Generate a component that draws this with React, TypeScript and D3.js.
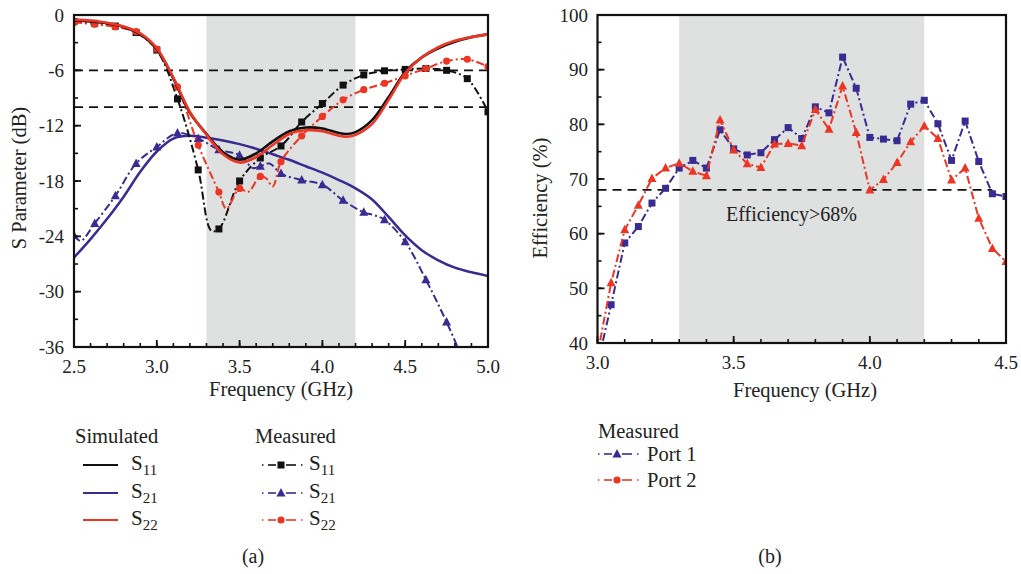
import React from "react";
import * as d3 from "d3";

// ---------- Data (a) ----------
const simFreq = [2.5, 2.6, 2.7, 2.8, 2.9, 3.0, 3.1, 3.2, 3.3, 3.4, 3.5, 3.6, 3.7, 3.8, 3.9, 4.0, 4.1, 4.15, 4.2, 4.3, 4.4, 4.5, 4.6, 4.7, 4.8, 4.9, 5.0];
const simS11 = [-0.6, -0.7, -0.9, -1.3, -2.1, -3.7, -6.9, -10.6, -12.9, -14.9, -15.7, -15.0, -13.7, -12.6, -12.2, -12.3, -12.8, -12.9, -12.7, -11.4, -8.9, -6.2, -4.6, -3.6, -2.9, -2.4, -2.1];
const simS22 = [-0.5, -0.6, -0.85, -1.25, -2.0, -3.6, -6.8, -10.5, -13.0, -15.1, -16.0, -15.4, -14.1, -12.9, -12.5, -12.6, -13.1, -13.2, -13.0, -11.8, -9.2, -6.3, -4.6, -3.5, -2.8, -2.4, -2.1];
const simS21Freq = [2.5, 2.6, 2.7, 2.8, 2.9, 3.0, 3.1, 3.2, 3.3, 3.4, 3.5, 3.6, 3.7, 3.8, 3.9, 4.0, 4.1, 4.2, 4.3, 4.4, 4.5, 4.6, 4.7, 4.8, 4.9, 5.0];
const simS21 = [-26.3, -24.3, -22.1, -19.7, -17.0, -14.8, -13.4, -13.1, -13.3, -13.6, -14.0, -14.5, -15.1, -15.7, -16.4, -17.1, -17.9, -18.8, -20.0, -21.9, -23.9, -25.5, -26.6, -27.4, -27.9, -28.3];

const measS11Freq = [2.5, 2.625, 2.75, 2.875, 3.0, 3.125, 3.25, 3.33, 3.375, 3.5, 3.625, 3.75, 3.875, 4.0, 4.125, 4.25, 4.375, 4.5, 4.625, 4.75, 4.875, 5.0];
const measS11 = [-0.7, -0.9, -1.2, -1.9, -3.8, -9.1, -16.8, -23.4, -23.2, -18.0, -15.5, -14.2, -11.6, -9.6, -7.6, -6.5, -6.05, -5.9, -5.8, -6.0, -6.9, -10.5];

const measS21Freq = [2.5, 2.54, 2.625, 2.75, 2.875, 3.0, 3.125, 3.25, 3.375, 3.5, 3.58, 3.625, 3.68, 3.75, 3.875, 4.0, 4.125, 4.25, 4.31, 4.375, 4.5, 4.625, 4.75, 4.875];
const measS21 = [-23.9, -24.5, -22.6, -19.6, -16.1, -14.3, -12.8, -13.4, -14.6, -15.2, -16.6, -16.4, -16.1, -17.2, -17.9, -18.4, -20.1, -21.4, -21.7, -22.2, -24.6, -28.7, -33.3, -38.5];

const measS22Freq = [2.5, 2.625, 2.75, 2.875, 3.0, 3.125, 3.25, 3.375, 3.42, 3.5, 3.55, 3.625, 3.66, 3.7, 3.75, 3.875, 4.0, 4.125, 4.25, 4.375, 4.5, 4.625, 4.75, 4.875, 5.0];
const measS22 = [-0.8, -1.0, -1.3, -1.8, -3.7, -7.8, -14.1, -19.2, -21.0, -18.8, -19.2, -17.5, -17.7, -18.6, -15.9, -13.1, -11.0, -9.2, -8.1, -7.4, -6.6, -5.8, -5.0, -4.8, -5.6];

const aXTicks = [2.5, 3.0, 3.5, 4.0, 4.5, 5.0];
const aYTicks = [0, -6, -12, -18, -24, -30, -36];
const aRefLines = [-6, -10];
const aBand = [3.3, 4.2];

// ---------- Data (b) ----------
const effFreq1 = [3.02, 3.05, 3.1, 3.15, 3.2, 3.25, 3.3, 3.35, 3.4, 3.45, 3.5, 3.55, 3.6, 3.65, 3.7, 3.75, 3.8, 3.85, 3.9, 3.95, 4.0, 4.05, 4.1, 4.15, 4.2, 4.25, 4.3, 4.35, 4.4, 4.45, 4.5];
const effPort1 = [40.4, 47.0, 58.3, 61.3, 65.6, 68.3, 72.0, 73.4, 72.0, 79.0, 75.5, 74.4, 74.8, 77.2, 79.4, 77.4, 83.2, 82.1, 92.3, 86.6, 77.6, 77.3, 77.0, 83.7, 84.4, 80.1, 73.4, 80.6, 73.2, 67.3, 66.8];
const effFreq2 = [3.01, 3.05, 3.1, 3.15, 3.2, 3.25, 3.3, 3.35, 3.4, 3.45, 3.5, 3.55, 3.6, 3.65, 3.7, 3.75, 3.8, 3.85, 3.9, 3.95, 4.0, 4.05, 4.1, 4.15, 4.2, 4.25, 4.3, 4.35, 4.4, 4.45, 4.5];
const effPort2 = [40.5, 51.0, 60.7, 65.2, 70.1, 72.0, 72.9, 71.4, 70.6, 80.8, 75.3, 72.8, 72.1, 76.4, 76.5, 76.1, 82.7, 79.1, 87.0, 78.5, 68.0, 69.9, 73.0, 76.8, 79.7, 77.4, 69.8, 72.0, 62.8, 57.3, 54.9];

const bXTicks = [3.0, 3.5, 4.0, 4.5];
const bYTicks = [40, 50, 60, 70, 80, 90, 100];
const bRefLine = 68;
const bBand = [3.3, 4.2];

// ---------- Styles ----------
const BLUE = "#3a2b92";
const RED = "#ee3524";
const BLACK = "#111111";
const FONT = "Liberation Serif, Times New Roman, Tinos, serif";
const DASHDOT = "8,3,2,3";

const xa = d3.scaleLinear().domain([2.5, 5.0]).range([74, 488]);
const ya = d3.scaleLinear().domain([-36, 0]).range([347, 15]);
const xb = d3.scaleLinear().domain([3.0, 4.5]).range([597.5, 1006]);
const yb = d3.scaleLinear().domain([40, 100]).range([343, 15]);

function zip(f: number[], v: number[]): [number, number][] {
  return f.map((x, i) => [x, v[i]]);
}

function isMarkerA(f: number) {
  return Math.abs(f * 8 - Math.round(f * 8)) < 1e-6;
}
function isMarkerB(f: number) {
  return Math.abs(f * 20 - Math.round(f * 20)) < 1e-6;
}

function Marker({ type, x, y, color }: { type: string; x: number; y: number; color: string }) {
  if (type === "square") return <rect x={x - 3.5} y={y - 3.5} width={7} height={7} fill={color} />;
  if (type === "triangle")
    return <path d={`M${x},${y - 5} L${x + 4.5},${y + 3.5} L${x - 4.5},${y + 3.5} Z`} fill={color} />;
  return <circle cx={x} cy={y} r={3.6} fill={color} />;
}

function Series({ data, x, y, color, dash, width, curve, marker, markerTest }: any) {
  const line = d3
    .line<[number, number]>()
    .x((d) => x(d[0]))
    .y((d) => y(d[1]))
    .curve(curve);
  return (
    <g>
      <path d={line(data) || ""} fill="none" stroke={color} strokeWidth={width} strokeDasharray={dash} />
      {marker &&
        data
          .filter((d: [number, number]) => markerTest(d[0]))
          .map((d: [number, number], i: number) => (
            <Marker key={i} type={marker} x={x(d[0])} y={y(d[1])} color={color} />
          ))}
    </g>
  );
}

function Axes({ x, y, xTicks, yTicks, xMinor, yMinor, xFmt, yFmt, xLabelY, yLabelX }: any) {
  const [x0, x1] = x.range();
  const [y0, y1] = y.range();
  const xm = d3.range(x.domain()[0], x.domain()[1] + 1e-9, xMinor);
  const ym = d3.range(y.domain()[0], y.domain()[1] + 1e-9, yMinor);
  return (
    <g>
      {xm.map((t: number, i: number) => (
        <line key={"xm" + i} x1={x(t)} x2={x(t)} y1={y0} y2={y0 - 4} stroke={BLACK} strokeWidth={1.6} />
      ))}
      {xTicks.map((t: number, i: number) => (
        <g key={"xt" + i}>
          <line x1={x(t)} x2={x(t)} y1={y0} y2={y0 - 7} stroke={BLACK} strokeWidth={1.8} />
          <text x={x(t)} y={xLabelY} textAnchor="middle" fontSize={19} style={{ fontFamily: FONT }} fill="#222">
            {xFmt(t)}
          </text>
        </g>
      ))}
      {ym.map((t: number, i: number) => (
        <line key={"ym" + i} x1={x0} x2={x0 + 4} y1={y(t)} y2={y(t)} stroke={BLACK} strokeWidth={1.6} />
      ))}
      {yTicks.map((t: number, i: number) => (
        <g key={"yt" + i}>
          <line x1={x0} x2={x0 + 7} y1={y(t)} y2={y(t)} stroke={BLACK} strokeWidth={1.8} />
          <text x={yLabelX} y={y(t) + 6.5} textAnchor="end" fontSize={19} style={{ fontFamily: FONT }} fill="#222">
            {yFmt(t)}
          </text>
        </g>
      ))}
      <rect x={x0} y={y1} width={x1 - x0} height={y0 - y1} fill="none" stroke={BLACK} strokeWidth={2.2} />
    </g>
  );
}

function LegendMeasured({ x, y, color, marker }: any) {
  return (
    <g stroke={color} strokeWidth={1.6}>
      <line x1={x} x2={x + 1.5} y1={y} y2={y} />
      <line x1={x + 6} x2={x + 14} y1={y} y2={y} />
      <line x1={x + 24} x2={x + 34} y1={y} y2={y} />
      <line x1={x + 39} x2={x + 40.5} y1={y} y2={y} />
      <g stroke="none">
        <Marker type={marker} x={x + 19} y={y} color={color} />
      </g>
    </g>
  );
}

function Sub({ x, y, sub }: { x: number; y: number; sub: string }) {
  return (
    <text x={x} y={y} fontSize={21} style={{ fontFamily: FONT }} fill="#222">
      S
      <tspan fontSize={15} dy={5}>
        {sub}
      </tspan>
    </text>
  );
}

function T({ x, y, children, anchor, size, transform }: any) {
  return (
    <text x={x} y={y} transform={transform} textAnchor={anchor || "start"} fontSize={size || 20.5} style={{ fontFamily: FONT }} fill="#222">
      {children}
    </text>
  );
}

export default function App() {
  const curve = d3.curveCatmullRom.alpha(0.5);
  const lin = d3.curveLinear;
  return (
    <svg width={1021} height={574} style={{ position: "absolute", left: 0, top: 0, background: "#fff", fontFamily: FONT }}>
      <defs>
        <clipPath id="clipA">
          <rect x={74} y={15} width={414} height={332} />
        </clipPath>
        <clipPath id="clipB">
          <rect x={597.5} y={15} width={408.5} height={328} />
        </clipPath>
      </defs>

      {/* ---------- Panel (a) ---------- */}
      <rect x={xa(aBand[0])} y={15} width={xa(aBand[1]) - xa(aBand[0])} height={332} fill="#dfe0e0" />
      {aRefLines.map((v, i) => (
        <line key={i} x1={74} x2={488} y1={ya(v)} y2={ya(v)} stroke={BLACK} strokeWidth={1.8} strokeDasharray="9,6" />
      ))}
      <g clipPath="url(#clipA)">
        <Series data={zip(simS21Freq, simS21)} x={xa} y={ya} color={BLUE} width={2.5} curve={curve} />
        <Series data={zip(measS21Freq, measS21)} x={xa} y={ya} color={BLUE} width={2} dash={DASHDOT} curve={curve} marker="triangle" markerTest={isMarkerA} />
        <Series data={zip(measS11Freq, measS11)} x={xa} y={ya} color={BLACK} width={2} dash={DASHDOT} curve={curve} marker="square" markerTest={isMarkerA} />
        <Series data={zip(measS22Freq, measS22)} x={xa} y={ya} color={RED} width={2} dash={DASHDOT} curve={curve} marker="circle" markerTest={isMarkerA} />
        <Series data={zip(simFreq, simS11)} x={xa} y={ya} color={BLACK} width={2.6} curve={curve} />
        <Series data={zip(simFreq, simS22)} x={xa} y={ya} color={RED} width={2.6} curve={curve} />
      </g>
      <Axes x={xa} y={ya} xTicks={aXTicks} yTicks={aYTicks} xMinor={0.1} yMinor={3}
        xFmt={(t: number) => t.toFixed(1)} yFmt={(t: number) => String(t)} xLabelY={373} yLabelX={64} />
      <T x={281} y={396} anchor="middle">Frequency (GHz)</T>
      <T x={0} y={0} anchor="middle" transform="translate(26,178) rotate(-90)">S Parameter (dB)</T>

      {/* Legend (a) */}
      <T x={75} y={443}>Simulated</T>
      <line x1={83} x2={118} y1={465} y2={465} stroke={BLACK} strokeWidth={1.8} />
      <line x1={83} x2={118} y1={493} y2={493} stroke={BLUE} strokeWidth={1.8} />
      <line x1={83} x2={118} y1={520} y2={520} stroke={RED} strokeWidth={1.8} />
      <Sub x={131} y={470} sub="11" />
      <Sub x={131} y={498} sub="21" />
      <Sub x={131} y={525} sub="22" />
      <T x={255} y={443}>Measured</T>
      <LegendMeasured x={262} y={465} color={BLACK} marker="square" />
      <LegendMeasured x={262} y={493} color={BLUE} marker="triangle" />
      <LegendMeasured x={262} y={520} color={RED} marker="circle" />
      <Sub x={309} y={470} sub="11" />
      <Sub x={309} y={498} sub="21" />
      <Sub x={309} y={525} sub="22" />
      <T x={253} y={563} anchor="middle" size={20}>(a)</T>

      {/* ---------- Panel (b) ---------- */}
      <rect x={xb(bBand[0])} y={15} width={xb(bBand[1]) - xb(bBand[0])} height={328} fill="#dfe0e0" />
      <line x1={597.5} x2={xb(4.45)} y1={yb(bRefLine)} y2={yb(bRefLine)} stroke={BLACK} strokeWidth={1.8} strokeDasharray="9,6" />
      <g clipPath="url(#clipB)">
        <Series data={zip(effFreq1, effPort1)} x={xb} y={yb} color={BLUE} width={2} dash={DASHDOT} curve={lin} marker="square" markerTest={(f: number) => isMarkerB(f) && f > 3.04} />
        <Series data={zip(effFreq2, effPort2)} x={xb} y={yb} color={RED} width={2} dash={DASHDOT} curve={lin} marker="triangle" markerTest={(f: number) => isMarkerB(f) && f > 3.04} />
      </g>
      <Axes x={xb} y={yb} xTicks={bXTicks} yTicks={bYTicks} xMinor={0.1} yMinor={5}
        xFmt={(t: number) => t.toFixed(1)} yFmt={(t: number) => String(t)} xLabelY={369} yLabelX={588} />
      <T x={726} y={221} size={20}>Efficiency&gt;68%</T>
      <T x={805} y={397} anchor="middle">Frequency (GHz)</T>
      <T x={0} y={0} anchor="middle" transform="translate(547,198) rotate(-90)">Efficiency (%)</T>

      {/* Legend (b) */}
      <T x={598} y={438}>Measured</T>
      <LegendMeasured x={598} y={454} color={BLUE} marker="triangle" />
      <LegendMeasured x={598} y={480} color={RED} marker="circle" />
      <T x={647} y={461}>Port 1</T>
      <T x={647} y={487}>Port 2</T>
      <T x={770} y={563} anchor="middle" size={20}>(b)</T>
    </svg>
  );
}
